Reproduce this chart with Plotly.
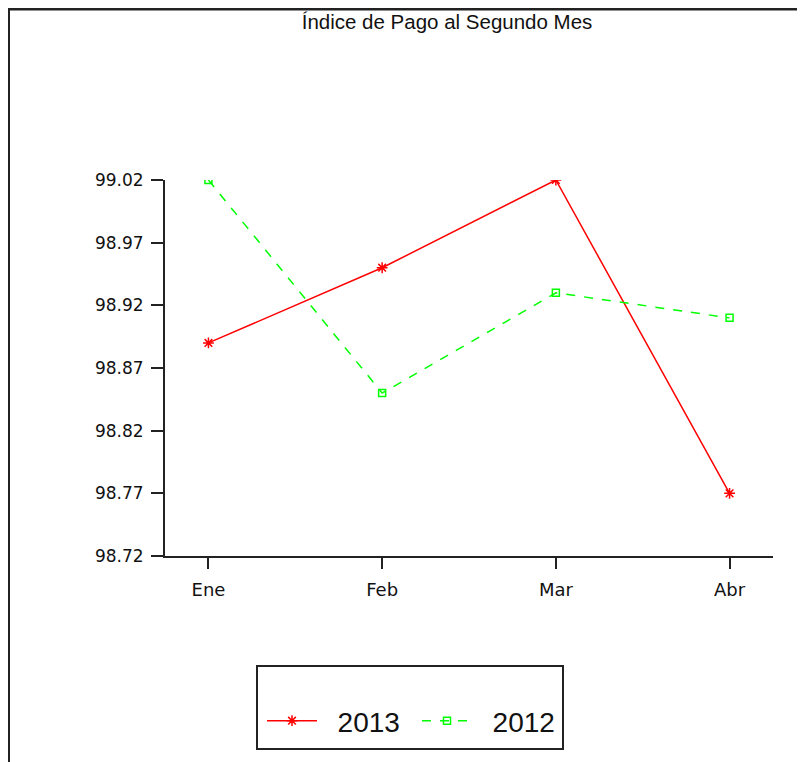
import plotly.graph_objects as go

months = ["Ene", "Feb", "Mar", "Abr"]
serie_2013 = [98.89, 98.95, 99.02, 98.77]
serie_2012 = [99.02, 98.85, 98.93, 98.91]
y_ticks = [98.72, 98.77, 98.82, 98.87, 98.92, 98.97, 99.02]
y_tick_labels = ["98.72", "98.77", "98.82", "98.87", "98.92", "98.97", "99.02"]
series_names = ["2013", "2012"]

OFF = 8  # browser body margin
W, H = 805 - OFF, 762 - OFF
# plot area in page pixels
L, R, T, B = 165 - OFF, 773 - OFF, 180 - OFF, 556 - OFF


def px(xp):
    return (xp - OFF - L) / (R - L)


def py(yp):
    return (B - (yp - OFF)) / (B - T)


x_pos = list(range(len(months)))
pad = "\u00a0\u00a0"

fig = go.Figure()
fig.add_trace(go.Scatter(
    x=x_pos, y=serie_2013, name=pad + series_names[0], mode="lines+markers",
    line=dict(color="#ff0000", width=1.5),
    marker=dict(symbol="asterisk-open", size=9, color="#ff0000", line=dict(color="#ff0000", width=1.5)),
))
fig.add_trace(go.Scatter(
    x=x_pos, y=serie_2012, name=pad + series_names[1], mode="lines+markers",
    line=dict(color="#00ff00", width=1.5, dash="dash"),
    marker=dict(symbol="square-open", size=7, color="#00ff00", line=dict(color="#00ff00", width=1.5)),
))

fig.update_layout(
    width=W, height=H,
    margin=dict(l=L, r=W - R, t=T, b=H - B, pad=0),
    paper_bgcolor="white", plot_bgcolor="white",
    title=dict(text="Índice de Pago al Segundo Mes", x=(447 - OFF) / W, xanchor="center",
               y=1 - 14 / H, yanchor="middle", yref="container",
               font=dict(family="Liberation Sans", size=20.5, color="#111")),
    xaxis=dict(range=[-0.25, 3.25], tickvals=x_pos, ticktext=months, showgrid=False,
               zeroline=False, showline=True, linecolor="#222", linewidth=2,
               ticks="outside", ticklen=11, tickwidth=2, tickcolor="#222",
               tickfont=dict(family="DejaVu Sans", size=18, color="#111"), ticklabelstandoff=5),
    yaxis=dict(range=[98.72, 99.02], tickvals=y_ticks, ticktext=y_tick_labels, showgrid=False,
               zeroline=False, showline=True, linecolor="#222", linewidth=2,
               ticks="outside", ticklen=12, tickwidth=2, tickcolor="#222",
               tickfont=dict(family="DejaVu Sans", size=17, color="#111"), ticklabelstandoff=4),
    showlegend=True,
    legend=dict(orientation="h", x=px(262), y=py(721), xanchor="left", yanchor="middle",
                font=dict(family="Liberation Sans", size=28, color="#111"),
                bgcolor="rgba(0,0,0,0)", borderwidth=0, itemwidth=50, entrywidth=90),
    shapes=[
        dict(type="rect", xref="paper", yref="paper", x0=px(257), x1=px(563), y0=py(749), y1=py(666),
             line=dict(color="#222", width=2), fillcolor="rgba(0,0,0,0)"),
        dict(type="line", xref="paper", yref="paper", x0=px(OFF + 1), x1=px(OFF + 1),
             y0=py(OFF), y1=py(H + OFF + 5), line=dict(color="#222", width=2)),
        dict(type="line", xref="paper", yref="paper", x0=px(OFF), x1=px(W + OFF + 5),
             y0=py(OFF + 1), y1=py(OFF + 1), line=dict(color="#222", width=3)),
    ],
)

fig.write_html("out.html")
